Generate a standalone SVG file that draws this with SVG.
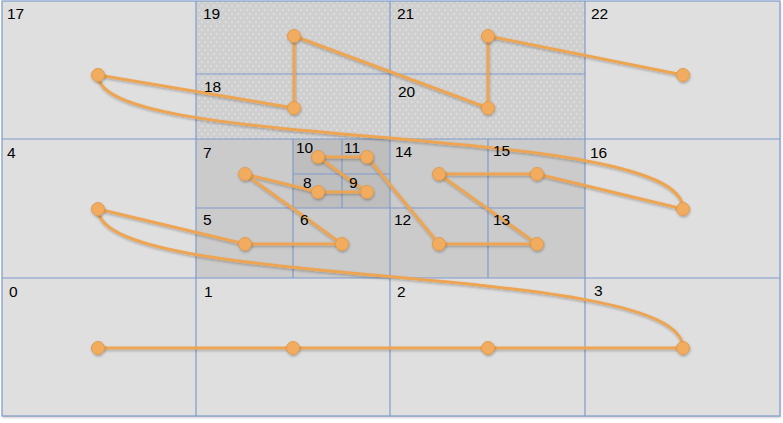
<svg xmlns="http://www.w3.org/2000/svg" width="783" height="423" viewBox="0 0 783 423">
<style>
.c1{fill:#dfdfdf}
.c2{fill:#cbcbcb}
.c3{fill:#bebebe}
.g{stroke:#7f9ccc;stroke-width:1.2;fill:none}
.t{font-family:"Liberation Sans",Arial,sans-serif;font-size:15.5px;fill:#000}
.e{stroke:#eda552;stroke-width:3;fill:none;stroke-linecap:round}
.n{fill:#f2ac5e;stroke:#e39b4b;stroke-width:1}
</style>
<defs>
<pattern id="dots" x="0" y="0" width="6" height="8" patternUnits="userSpaceOnUse">
<rect width="6" height="8" fill="#cfcfcf"/>
<circle cx="1" cy="2" r="0.7" fill="#f2f2f2"/>
<circle cx="4" cy="6" r="0.7" fill="#f2f2f2"/>
</pattern>
<filter id="sh" x="-10%" y="-10%" width="120%" height="130%">
<feDropShadow dx="0.5" dy="1.5" stdDeviation="1" flood-color="#000" flood-opacity="0.25"/>
</filter>
</defs>
<g id="background">
<rect x="0" y="0" width="783" height="423" fill="#ffffff"/>
<rect x="2" y="1" width="778" height="415" class="c1" filter="url(#sh)"/>
<rect x="196" y="1" width="389" height="138" fill="url(#dots)"/>
<rect x="196" y="139" width="389" height="139" class="c2"/>
<rect x="293" y="139" width="97" height="69" class="c3"/>
</g>
<g id="grid">
<rect x="2" y="1" width="778" height="415" class="g"/>
<line x1="196" y1="1" x2="196" y2="416" class="g"/>
<line x1="390" y1="1" x2="390" y2="416" class="g"/>
<line x1="585" y1="1" x2="585" y2="416" class="g"/>
<line x1="2" y1="139" x2="780" y2="139" class="g"/>
<line x1="2" y1="278" x2="780" y2="278" class="g"/>
<line x1="196" y1="74" x2="585" y2="74" class="g"/>
<line x1="196" y1="208" x2="585" y2="208" class="g"/>
<line x1="293" y1="139" x2="293" y2="278" class="g"/>
<line x1="488" y1="139" x2="488" y2="278" class="g"/>
<line x1="342" y1="139" x2="342" y2="208" class="g"/>
<line x1="293" y1="174" x2="390" y2="174" class="g"/>
</g>
<g id="connectors" filter="url(#sh)">
<path class="e" d="M98,348 L293,348"/>
<path class="e" d="M293,348 L488,348"/>
<path class="e" d="M488,348 L683,348"/>
<path class="e" d="M683,348 C683,260 98,292 98,209"/>
<path class="e" d="M98,209 L245,244"/>
<path class="e" d="M245,244 L342,244"/>
<path class="e" d="M342,244 L245,174"/>
<path class="e" d="M245,174 L318,192"/>
<path class="e" d="M318,192 L367,192"/>
<path class="e" d="M367,192 L318,157"/>
<path class="e" d="M318,157 L367,157"/>
<path class="e" d="M367,157 L439,244"/>
<path class="e" d="M439,244 L537,244"/>
<path class="e" d="M537,244 L439,174"/>
<path class="e" d="M439,174 L537,174"/>
<path class="e" d="M537,174 L683,209"/>
<path class="e" d="M683,209 C683,121 98,153 98,75"/>
<path class="e" d="M98,75 L294,108"/>
<path class="e" d="M294,108 L294,36"/>
<path class="e" d="M294,36 L488,108"/>
<path class="e" d="M488,108 L488,36"/>
<path class="e" d="M488,36 L683,75"/>
</g>
<g id="labels">
<text class="t" x="7" y="19">17</text>
<text class="t" x="203" y="19">19</text>
<text class="t" x="397" y="19">21</text>
<text class="t" x="591" y="19">22</text>
<text class="t" x="204" y="92">18</text>
<text class="t" x="398" y="97">20</text>
<text class="t" x="7" y="158">4</text>
<text class="t" x="203" y="158">7</text>
<text class="t" x="296" y="153">10</text>
<text class="t" x="344" y="153">11</text>
<text class="t" x="395" y="157">14</text>
<text class="t" x="493" y="156">15</text>
<text class="t" x="590" y="158">16</text>
<text class="t" x="303" y="188">8</text>
<text class="t" x="349" y="188">9</text>
<text class="t" x="203" y="225">5</text>
<text class="t" x="300" y="225">6</text>
<text class="t" x="394" y="225">12</text>
<text class="t" x="493" y="225">13</text>
<text class="t" x="9" y="297">0</text>
<text class="t" x="204" y="297">1</text>
<text class="t" x="397" y="297">2</text>
<text class="t" x="594" y="296">3</text>
</g>
<g filter="url(#sh)">
<g id="n0"><circle class="n" cx="98" cy="348" r="6.5"/></g>
<g id="n1"><circle class="n" cx="293" cy="348" r="6.5"/></g>
<g id="n2"><circle class="n" cx="488" cy="348" r="6.5"/></g>
<g id="n3"><circle class="n" cx="683" cy="348" r="6.5"/></g>
<g id="n4"><circle class="n" cx="98" cy="209" r="6.5"/></g>
<g id="n5"><circle class="n" cx="245" cy="244" r="6.5"/></g>
<g id="n6"><circle class="n" cx="342" cy="244" r="6.5"/></g>
<g id="n7"><circle class="n" cx="245" cy="174" r="6.5"/></g>
<g id="n8"><circle class="n" cx="318" cy="192" r="6.5"/></g>
<g id="n9"><circle class="n" cx="367" cy="192" r="6.5"/></g>
<g id="n10"><circle class="n" cx="318" cy="157" r="6.5"/></g>
<g id="n11"><circle class="n" cx="367" cy="157" r="6.5"/></g>
<g id="n12"><circle class="n" cx="439" cy="244" r="6.5"/></g>
<g id="n13"><circle class="n" cx="537" cy="244" r="6.5"/></g>
<g id="n14"><circle class="n" cx="439" cy="174" r="6.5"/></g>
<g id="n15"><circle class="n" cx="537" cy="174" r="6.5"/></g>
<g id="n16"><circle class="n" cx="683" cy="209" r="6.5"/></g>
<g id="n17"><circle class="n" cx="98" cy="75" r="6.5"/></g>
<g id="n18"><circle class="n" cx="294" cy="108" r="6.5"/></g>
<g id="n19"><circle class="n" cx="294" cy="36" r="6.5"/></g>
<g id="n20"><circle class="n" cx="488" cy="108" r="6.5"/></g>
<g id="n21"><circle class="n" cx="488" cy="36" r="6.5"/></g>
<g id="n22"><circle class="n" cx="683" cy="75" r="6.5"/></g>
</g>
</svg>
